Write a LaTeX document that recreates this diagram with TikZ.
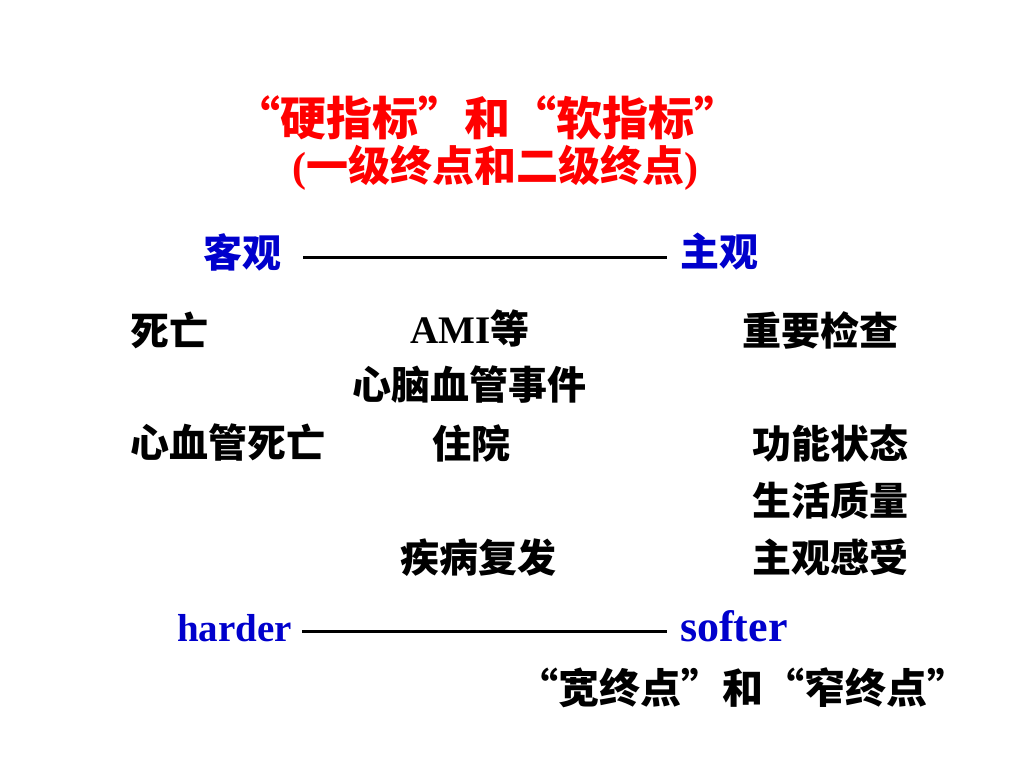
\documentclass[tikz,border=0pt]{standalone}
\usepackage{fontspec}
\setmainfont{Liberation Serif}
\newfontfamily\cjk{Noto Sans CJK SC}
\definecolor{tred}{RGB}{255,0,0}
\definecolor{tblue}{RGB}{0,0,204}
\begin{document}
\begin{tikzpicture}[x=1pt,y=-1pt,
  txt/.style={inner sep=0pt,anchor=west,font=\cjk\bfseries\fontsize{39}{40}\selectfont},
  ttl/.style={inner sep=0pt,anchor=center,text=tred,font=\cjk\bfseries\fontsize{46}{48}\selectfont},
  scale line/.style={line width=3pt,black}]
\useasboundingbox (0,0) rectangle (1024,768);
\node[ttl] (t1) at (487,118) {“硬指标”和“软指标”};
\node[ttl,font=\cjk\bfseries\fontsize{42}{44}\selectfont] (t2) at (495,168) {{\rmfamily (}一级终点和二级终点{\rmfamily )}};
\node[txt,text=tblue] (obj) at (203,252) {客观};
\node[txt,text=tblue] (subj) at (680,252) {主观};
\coordinate (l1a) at (303,257);
\coordinate (l1b) at (667,257);
\draw[scale line] (l1a) -- (l1b);
\node[txt] (a1) at (130,330) {死亡};
\node[txt] (a2) at (410,328) {{\rmfamily AMI}等};
\node[txt] (a3) at (742,330) {重要检查};
\node[txt] (b2) at (352,385) {心脑血管事件};
\node[txt] (c1) at (130,443) {心血管死亡};
\node[txt] (c2) at (432,443) {住院};
\node[txt] (c3) at (752,443) {功能状态};
\node[txt] (d3) at (752,500) {生活质量};
\node[txt] (e2) at (400,558) {疾病复发};
\node[txt] (e3) at (752,558) {主观感受};
\node[inner sep=0pt,anchor=west,text=tblue,font=\rmfamily\bfseries\fontsize{39}{40}\selectfont] (hd) at (177,628) {harder};
\node[inner sep=0pt,anchor=west,text=tblue,font=\rmfamily\bfseries\fontsize{44}{46}\selectfont] (sf) at (680,626) {softer};
\coordinate (l2a) at (302,631);
\coordinate (l2b) at (667,631);
\draw[scale line] (l2a) -- (l2b);
\node[txt,anchor=center,font=\cjk\bfseries\fontsize{41}{42}\selectfont] (w) at (743,688) {“宽终点”和“窄终点”};
\end{tikzpicture}
\end{document}
